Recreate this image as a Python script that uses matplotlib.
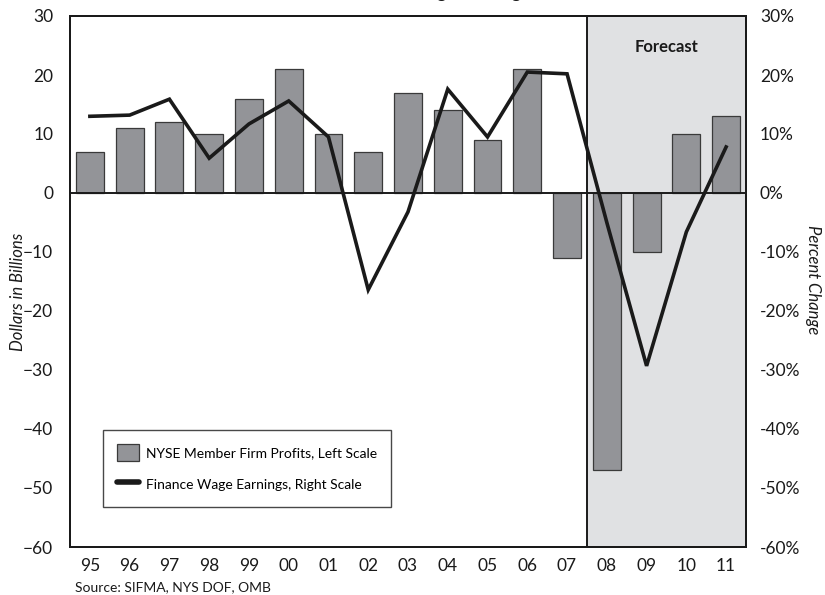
import matplotlib
matplotlib.use("Agg")
import matplotlib.pyplot as plt
from matplotlib.patches import Patch
from matplotlib.lines import Line2D
from matplotlib.ticker import FuncFormatter

years = ["95", "96", "97", "98", "99", "00", "01", "02", "03", "04", "05", "06", "07", "08", "09", "10", "11"]
profits = [7, 11, 12, 10, 16, 21, 10, 7, 17, 14, 9, 21, -11, -47, -10, 10, 13]
wage_pct = [13.0, 13.2, 15.9, 5.9, 11.7, 15.6, 9.5, -16.4, -3.2, 17.6, 9.5, 20.5, 20.2, -5.0, -29.3, -6.6, 7.8]
forecast_start = 13  # index of first forecast year

plt.rcParams['font.family'] = ['Lato', 'DejaVu Sans']

fig = plt.figure(figsize=(8.25, 5.95), dpi=100)
ax = fig.add_axes([70/825, 48/595, 676/825, 531/595])
x = list(range(len(years)))

ax.set_xlim(-0.5, len(years) - 0.5)
ax.set_ylim(-60, 30)
ax.axvspan(forecast_start - 0.5, len(years) - 0.5, color='#e0e1e3', zorder=0, lw=0)
ax.axvline(forecast_start - 0.5, color='#1a1a1a', lw=1.4, zorder=1)
ax.bar(x, profits, width=0.7, color='#939498', edgecolor='#3a3a3a', linewidth=0.9, zorder=2)
ax.axhline(0, color='#1a1a1a', lw=1.4, zorder=3)

ax.set_yticks(range(-60, 31, 10))
ax.set_xticks(x)
ax.set_xticklabels(years)
ax.tick_params(axis='both', length=0, labelsize=12.5, colors='#1a1a1a')
ax.tick_params(axis='x', pad=8)
ax.tick_params(axis='y', pad=12)
for s in ax.spines.values():
    s.set_color('#1a1a1a')
    s.set_linewidth(1.4)

ax2 = ax.twinx()
ax2.set_ylim(-60, 30)
ax2.plot(x, wage_pct, color='#1a1a1a', lw=2.6, zorder=4, solid_joinstyle='miter')
ax2.set_yticks(range(-60, 31, 10))
ax2.yaxis.set_major_formatter(FuncFormatter(lambda v, p: f"{int(v)}%"))
ax2.tick_params(axis='y', length=0, labelsize=12.5, colors='#1a1a1a', pad=10)
for s in ax2.spines.values():
    s.set_color('#1a1a1a')
    s.set_linewidth(1.4)

ax.text((forecast_start + len(years) - 1) / 2, 24.7, "Forecast", ha='center', va='center',
        fontsize=12, fontweight='bold', color='#1a1a1a', zorder=5)

fig.text(18/825, 0.51, "Dollars in Billions", rotation=90, ha='center', va='center',
         fontsize=12, style='italic', color='#1a1a1a')
fig.text(813/825, 0.53, "Percent Change", rotation=-90, ha='center', va='center',
         fontsize=12, style='italic', color='#1a1a1a')

fig.text(436/825, 1.0 + 2/595, "Finance Wage Earnings", ha='center', va='baseline',
         fontsize=13, fontweight='bold', color='#1a1a1a')

fig.text(75/825, 8/595, "Source: SIFMA, NYS DOF, OMB", ha='left', va='center',
         fontsize=10, color='#1a1a1a')

handles = [Patch(facecolor='#939498', edgecolor='#3a3a3a', linewidth=0.9),
           Line2D([0], [0], color='#1a1a1a', lw=4, solid_capstyle='round')]
labels = ["NYSE Member Firm Profits, Left Scale", "Finance Wage Earnings, Right Scale"]
leg = ax.legend(handles, labels, loc='lower left', bbox_to_anchor=(33/676, 40/531),
                borderaxespad=0, fontsize=10, frameon=True, fancybox=False, edgecolor='#1a1a1a',
                handlelength=1.6, handleheight=1.6, borderpad=1.0, labelspacing=1.0,
                handletextpad=0.5)
leg.get_frame().set_linewidth(1.0)
leg.set_zorder(6)

fig.savefig("out.png", dpi=100)
